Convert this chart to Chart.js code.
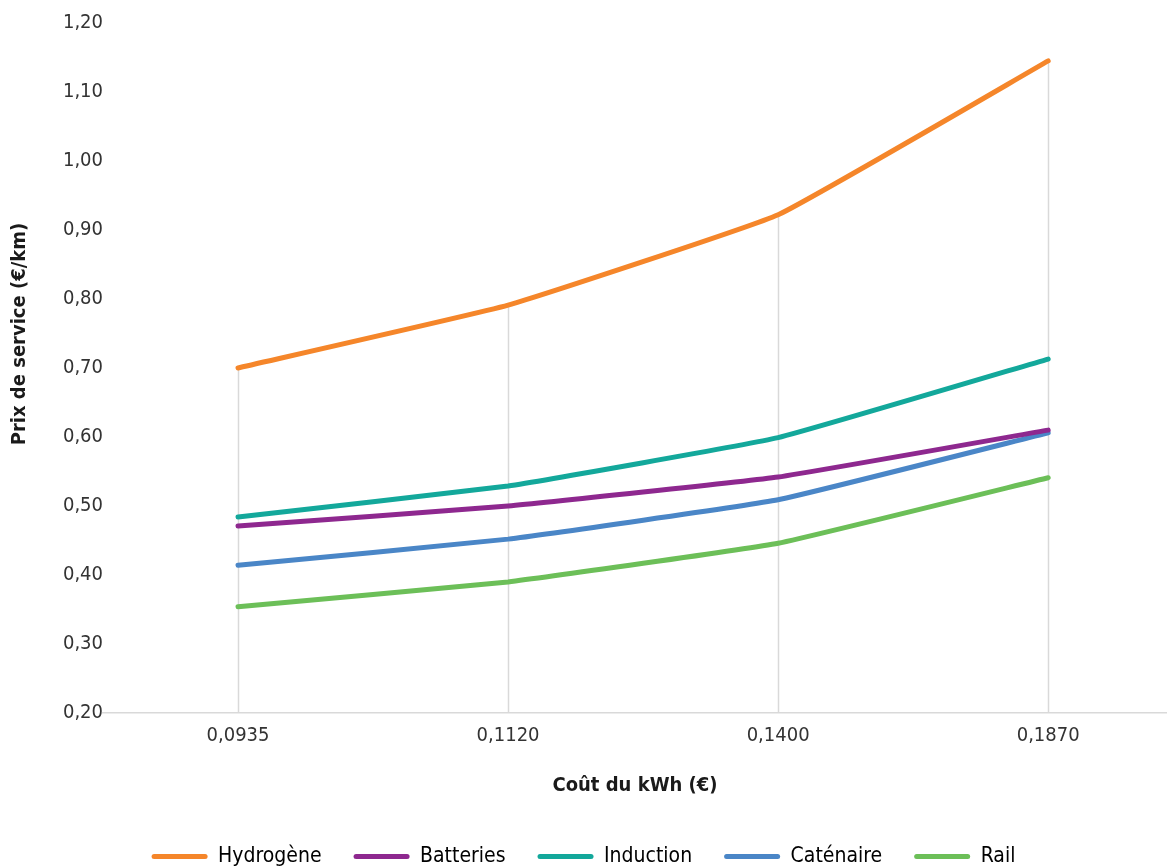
<!DOCTYPE html>
<html lang="fr">
<head>
<meta charset="utf-8">
<title>Prix de service selon le coût du kWh</title>
<script src="https://cdn.jsdelivr.net/npm/chart.js@4/dist/chart.umd.min.js"></script>
<style>
  html, body { margin: 0; padding: 0; background: #ffffff; overflow: hidden; }
  #wrap { position: relative; width: 1167px; height: 867px; }
</style>
</head>
<body>
<div id="wrap"><canvas id="chart" width="1167" height="867"></canvas></div>
<script>
// Coût du kWh (€) — catégories de l'axe horizontal
const categories = ['0,0935', '0,1120', '0,1400', '0,1870'];

// Prix de service (€/km) par mode d'alimentation
const hydrogene = [0.70, 0.791, 0.922, 1.145];
const batteries = [0.471, 0.50, 0.542, 0.61];
const induction = [0.484, 0.529, 0.599, 0.713];
const catenaire = [0.414, 0.452, 0.509, 0.606];
const rail      = [0.354, 0.390, 0.446, 0.541];

// Graduations de l'axe vertical
const yTicks = [0.20, 0.30, 0.40, 0.50, 0.60, 0.70, 0.80, 0.90, 1.00, 1.10, 1.20];

const Y_TITLE = 'Prix de service (€/km)';
const FONT = "'Liberation Sans Narrow', 'DejaVu Sans Condensed', sans-serif";

const series = [
  { label: 'Hydrogène', data: hydrogene, color: '#F5862A' },
  { label: 'Batteries', data: batteries, color: '#8E288F' },
  { label: 'Induction', data: induction, color: '#13A89B' },
  { label: 'Caténaire', data: catenaire, color: '#4A86C7' },
  { label: 'Rail',      data: rail,      color: '#6CBF58' }
];

// Lignes verticales descendant du point le plus haut de chaque catégorie jusqu'à l'axe
const dropLines = {
  id: 'dropLines',
  beforeDatasetsDraw(chart) {
    const { ctx, scales: { x, y } } = chart;
    ctx.save();
    ctx.strokeStyle = '#d9d9d9';
    ctx.lineWidth = 1.5;
    categories.forEach((_, i) => {
      const top = Math.max(...chart.data.datasets.map(d => d.data[i].y));
      const px = Math.round(x.getPixelForValue(i)) + 0.5;
      ctx.beginPath();
      ctx.moveTo(px, y.getPixelForValue(top));
      ctx.lineTo(px, y.bottom);
      ctx.stroke();
    });
    ctx.restore();
  }
};

// Titre vertical de l'axe des prix, légèrement remonté par rapport au centre de la zone
const yTitle = {
  id: 'yTitle',
  afterDraw(chart) {
    const { ctx, chartArea } = chart;
    ctx.save();
    ctx.translate(20, (chartArea.top + chartArea.bottom) / 2 - 34);
    ctx.rotate(-Math.PI / 2);
    ctx.fillStyle = '#1a1a1a';
    ctx.font = `bold 20px ${FONT}`;
    ctx.textAlign = 'center';
    ctx.textBaseline = 'middle';
    ctx.fillText(Y_TITLE, 0, 0);
    ctx.restore();
  }
};

const fr2 = v => v.toFixed(2).replace('.', ',');

new Chart(document.getElementById('chart'), {
  type: 'line',
  data: {
    datasets: series.map(s => ({
      label: s.label,
      data: s.data.map((v, i) => ({ x: i, y: v })),
      borderColor: s.color,
      backgroundColor: s.color,
      borderWidth: 5,
      borderCapStyle: 'round',
      borderJoinStyle: 'round',
      pointRadius: 0,
      tension: 0.1,
      fill: false
    }))
  },
  options: {
    responsive: false,
    animation: false,
    layout: { padding: { top: 23, right: 0, bottom: -10, left: 0 } },
    scales: {
      x: {
        type: 'linear',
        min: -0.5,
        max: 3.44,
        afterBuildTicks(scale) {
          scale.ticks = categories.map((_, i) => ({ value: i }));
        },
        afterFit(scale) { scale.height = 101; },
        grid: { display: false, drawTicks: false },
        border: { display: true, color: '#d9d9d9', width: 1.5 },
        ticks: {
          padding: 11,
          color: '#333333',
          font: { family: FONT, size: 20 },
          callback: (v) => categories[v] ?? ''
        },
        title: {
          display: true,
          text: 'Coût du kWh (€)',
          color: '#1a1a1a',
          font: { family: FONT, size: 20, weight: 'bold' },
          padding: { top: 0, bottom: 16 }
        }
      },
      y: {
        min: 0.20,
        max: 1.20,
        afterBuildTicks(scale) {
          scale.ticks = yTicks.map(v => ({ value: v }));
        },
        afterFit(scale) { scale.width = 103; },
        grid: { display: false, drawTicks: false },
        border: { display: false },
        ticks: {
          padding: 0,
          color: '#333333',
          font: { family: FONT, size: 20 },
          callback: (v) => fr2(v)
        },
        title: { display: false }
      }
    },
    plugins: {
      legend: {
        position: 'bottom',
        labels: {
          color: '#333333',
          font: { family: FONT, size: 21 },
          boxWidth: 56,
          boxHeight: 5,
          padding: 32,
          useBorderRadius: true,
          borderRadius: 2.5,
          generateLabels(chart) {
            return chart.data.datasets.map((d, i) => ({
              text: d.label,
              fillStyle: d.borderColor,
              strokeStyle: d.borderColor,
              lineWidth: 0,
              borderRadius: 2.5,
              datasetIndex: i,
              hidden: false
            }));
          }
        }
      },
      tooltip: { enabled: false }
    }
  },
  plugins: [dropLines, yTitle]
});
</script>
</body>
</html>
